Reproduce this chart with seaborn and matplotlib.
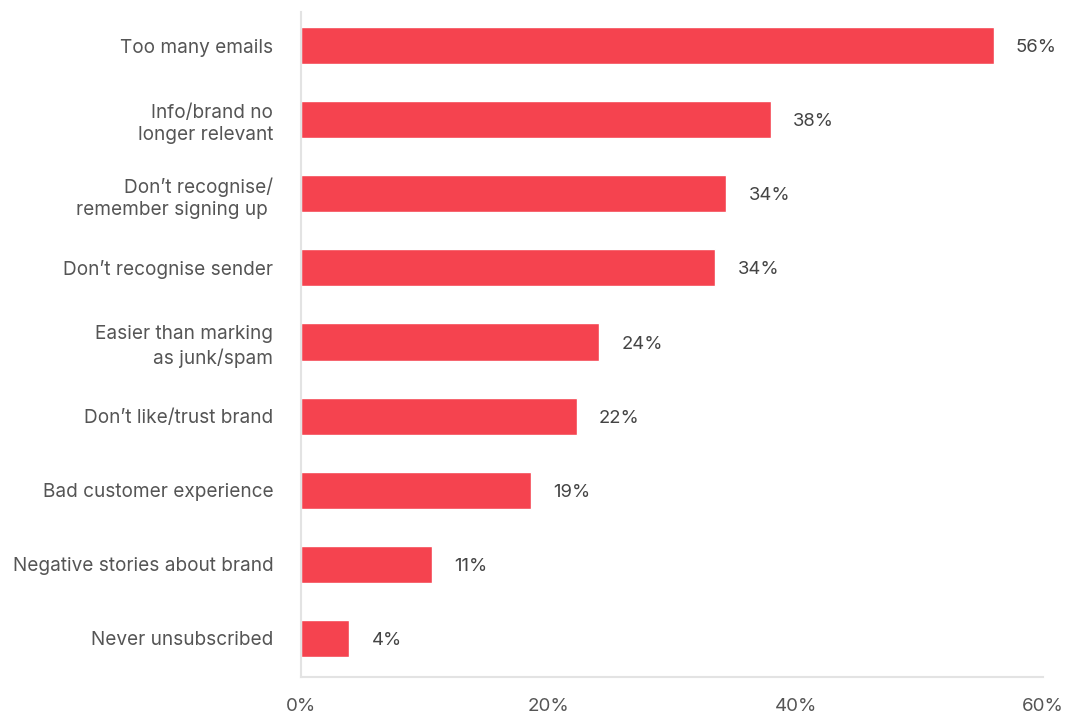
import matplotlib
matplotlib.use("Agg")
import matplotlib.pyplot as plt
from matplotlib.ticker import FuncFormatter
import seaborn as sns
import pandas as pd

reasons = [
    "Too many emails",
    "Info/brand no\nlonger relevant",
    "Don\u2019t recognise/\nremember signing up ",
    "Don\u2019t recognise sender",
    "Easier than marking\nas junk/spam",
    "Don\u2019t like/trust brand",
    "Bad customer experience",
    "Negative stories about brand",
    "Never unsubscribed",
]
shares = [56.0, 38.0, 34.4, 33.5, 24.1, 22.3, 18.6, 10.6, 3.9]
x_ticks = [0, 20, 40, 60]

df = pd.DataFrame({"reason": reasons, "share": shares})

sns.set_theme(style="white")
plt.rcParams["font.family"] = ["Inter", "DejaVu Sans"]

fig = plt.figure(figsize=(10.7, 7.15), dpi=100)
ax = fig.add_axes([0.2813, 0.0531, 0.6935, 0.9301])

sns.barplot(data=df, x="share", y="reason", color="#F5434F", width=0.5,
            saturation=1, ax=ax, orient="h")

ax.set_xlim(0, 60)
ax.set_ylim(8.52, -0.452)
ax.set_xticks(x_ticks)
ax.xaxis.set_major_formatter(FuncFormatter(lambda v, _: f"{v:.0f}%"))
ax.set_xlabel("")
ax.set_ylabel("")
ax.tick_params(axis="x", length=0, pad=15, labelsize=13.5, labelcolor="#555555")
ax.tick_params(axis="y", length=0, pad=20, labelsize=13.7, labelcolor="#555555")
for lbl in ax.get_yticklabels():
    lbl.set_horizontalalignment("right")
    lbl.set_multialignment("right")
    lbl.set_linespacing(1.33)

for side in ["top", "right"]:
    ax.spines[side].set_visible(False)
for side in ["left", "bottom"]:
    ax.spines[side].set_color("#E3E3E3")
    ax.spines[side].set_linewidth(1.5)

labels = ax.bar_label(ax.containers[0], labels=[f"{v:.0f}%" for v in shares],
                      padding=16, fontsize=13.3, color="#444444")
for t in labels:
    t.set_verticalalignment("center_baseline")

fig.savefig("out.png", dpi=100)
